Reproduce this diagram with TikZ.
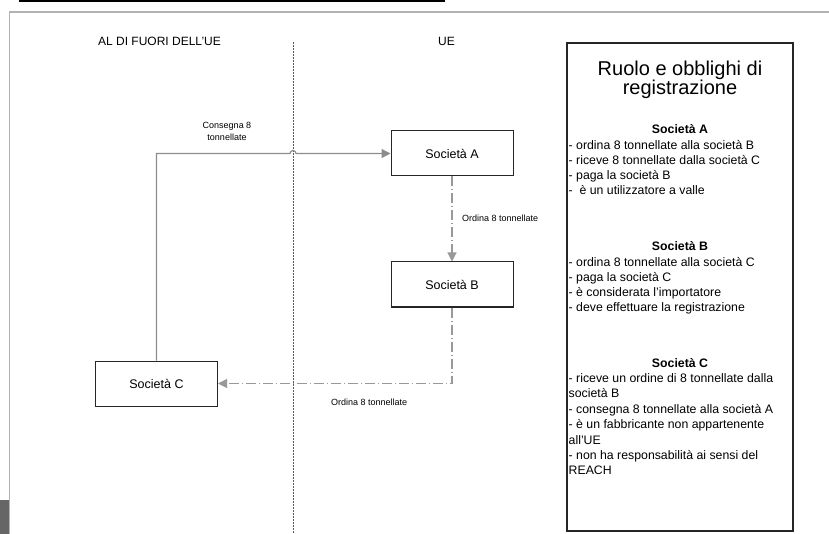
\documentclass[tikz,border=0pt]{standalone}
\usepackage{fontspec}
\setmainfont{Liberation Sans}
\usetikzlibrary{arrows.meta}
\begin{document}
\begin{tikzpicture}[x=1pt,y=-1pt,
  box/.style={draw=black!85,line width=1pt,minimum width=122pt,minimum height=45pt,inner sep=0pt,font=\fontsize{12.5}{14}\selectfont},
  flow/.style={draw=black!45,line width=1.2pt,-{Triangle[length=9pt,width=9pt]}},
  order/.style={draw=black!40,line width=1.1pt,dash pattern=on 10pt off 3pt on 1pt off 3pt,-{Triangle[length=9pt,width=9pt]}},
  lbl/.style={font=\fontsize{9}{12}\selectfont,inner sep=0pt,align=center},
  head/.style={font=\fontsize{12}{14}\selectfont,inner sep=0pt,anchor=base},
  item/.style={font=\fontsize{12.3}{14}\selectfont,inner sep=0pt,anchor=base west},
  sect/.style={font=\bfseries\fontsize{12.3}{14}\selectfont,inner sep=0pt,anchor=base},
  ttl/.style={font=\fontsize{20}{22}\selectfont,inner sep=0pt,anchor=base}]

\useasboundingbox (0,0) rectangle (829,534);

% page decorations
\draw[line width=2pt] (19,0.8) -- (445,0.8);
\draw[black!30,line width=1.2pt] (9.5,534) -- (9.5,12) -- (829,12);
\fill[black!60] (0,500) rectangle (8.5,534);

% divider
\coordinate (dtop) at (293,42);
\coordinate (dbot) at (293,534);
\draw[black!65,line width=0.8pt,dash pattern=on 2pt off 1pt] (dtop) -- (dbot);

% region titles
\node[head] (outside) at (159.5,46) {AL DI FUORI DELL'UE};
\node[head] (eu) at (446.5,46) {UE};

% companies
\node[box] (A) at (452,153.5) {Società A};
\node[box] (B) at (452,284.5) {Società B};
\node[box] (C) at (156.5,383.5) {Società C};

% connectors
\coordinate (hop) at (293,153.5);
\draw[flow] (C.north) |- ([xshift=-3pt]hop) arc[start angle=180,end angle=0,radius=3pt] -- (A.west);
\draw[order] (A.south) -- (B.north);
\draw[order] (B.south) |- (C.east);

% connector labels
\node[lbl] (l1) at (227,131) {Consegna 8\\tonnellate};
\node[lbl,anchor=west] (l2) at (462,218) {Ordina 8 tonnellate};
\node[lbl,anchor=west] (l3) at (331,402) {Ordina 8 tonnellate};

% roles box
\draw[black!85,line width=1.2pt] (567,43) rectangle (793,531);
\node[ttl] (t1) at (680,76) {Ruolo e obblighi di};
\node[ttl] (t2) at (680,95) {registrazione};

\node[sect] (sa) at (680,134) {Società A};
\node[item] at (568.5,149.5) {- ordina 8 tonnellate alla società B};
\node[item] at (568.5,164.5) {- riceve 8 tonnellate dalla società C};
\node[item] at (568.5,179.5) {- paga la società B};
\node[item] at (568.5,194.5) {-\ \ è un utilizzatore a valle};

\node[sect] (sb) at (680,251) {Società B};
\node[item] at (568.5,266.5) {- ordina 8 tonnellate alla società C};
\node[item] at (568.5,281.5) {- paga la società C};
\node[item] at (568.5,296.5) {- è considerata l'importatore};
\node[item] at (568.5,311.5) {- deve effettuare la registrazione};

\node[sect] (sc) at (680,367) {Società C};
\node[item] at (568.5,382.5) {- riceve un ordine di 8 tonnellate dalla};
\node[item] at (568.5,397.9) {società B};
\node[item] at (568.5,413.3) {- consegna 8 tonnellate alla società A};
\node[item] at (568.5,428.7) {- è un fabbricante non appartenente};
\node[item] at (568.5,444.1) {all'UE};
\node[item] at (568.5,459.5) {- non ha responsabilità ai sensi del};
\node[item] at (568.5,474.9) {REACH};
\end{tikzpicture}
\end{document}
